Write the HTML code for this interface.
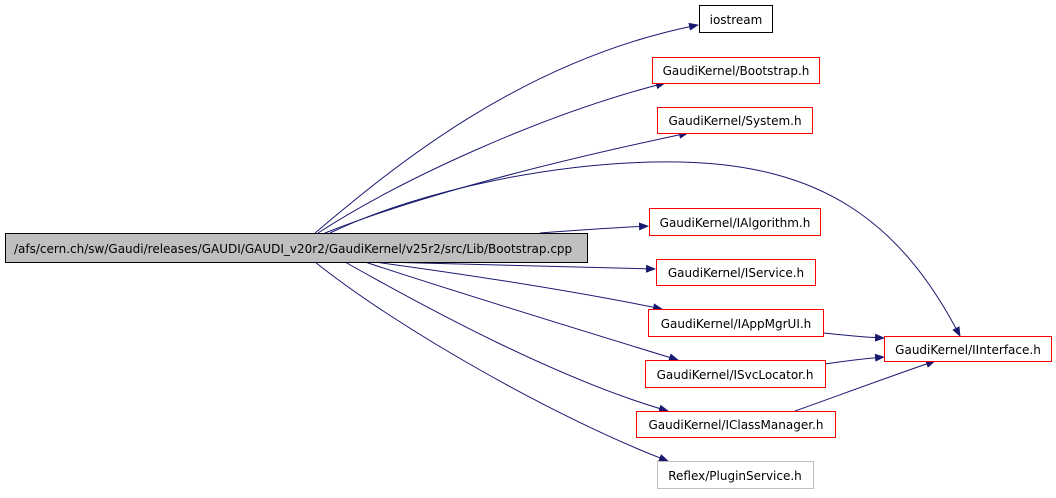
<!DOCTYPE html>
<html><head><style>
body{margin:0;background:#fff;width:1056px;height:493px;overflow:hidden}
svg text{font-family:"DejaVu Sans","Liberation Sans",sans-serif;font-size:12px}
</style></head><body>
<svg width="1056" height="493" viewBox="0 0 1056 493" xmlns="http://www.w3.org/2000/svg">
<defs><marker id="a" markerWidth="10" markerHeight="8" refX="9" refY="4" orient="auto" markerUnits="userSpaceOnUse"><path d="M0,0 L10,4 L0,8 z" fill="#191970"/></marker></defs>
<g fill="none" stroke="#191970" stroke-width="1" marker-end="url(#a)">
<path d="M315,233 C390,170 520,60 698,25"/>
<path d="M318,233 C400,180 540,115 665,83"/>
<path d="M325,233 C420,195 560,160 688,133"/>
<path d="M330,233 C420,190 560,160 680,162 C820,165 900,220 960,336"/>
<path d="M540,233 C580,230 610,228 648,226"/>
<path d="M380,262 C480,265 570,267 655,269"/>
<path d="M375,262 C470,275 570,290 662,309"/>
<path d="M365,262 C450,290 580,330 678,360"/>
<path d="M345,262 C430,310 560,380 668,411"/>
<path d="M315,262 C400,330 560,420 668,461"/>
<path d="M823,333 C845,335 860,337 884,338"/>
<path d="M825,364 C845,361 860,359 884,357"/>
<path d="M795,411 C840,395 880,380 935,361"/>
</g>
<rect x="5.5" y="233.5" width="582" height="29" fill="#bfbfbf" stroke="#000"/>
<text x="14" y="253">/afs/cern.ch/sw/Gaudi/releases/GAUDI/GAUDI_v20r2/GaudiKernel/v25r2/src/Lib/Bootstrap.cpp</text>
<g fill="#fff">
<rect x="699.5" y="5.5" width="73" height="27" stroke="#000"/>
<rect x="652.5" y="57.5" width="167" height="26" stroke="#f00"/>
<rect x="657.5" y="107.5" width="155" height="26" stroke="#f00"/>
<rect x="649.5" y="208.5" width="171" height="27" stroke="#f00"/>
<rect x="656.5" y="259.5" width="159" height="26" stroke="#f00"/>
<rect x="648.5" y="309.5" width="175" height="27" stroke="#f00"/>
<rect x="884.5" y="336.5" width="167" height="25" stroke="#f00"/>
<rect x="645.5" y="360.5" width="180" height="27" stroke="#f00"/>
<rect x="636.5" y="411.5" width="199" height="26" stroke="#f00"/>
<rect x="657.5" y="461.5" width="156" height="27" stroke="#bfbfbf"/>
</g>
<g text-anchor="middle">
<text x="736" y="24">iostream</text>
<text x="736" y="75">GaudiKernel/Bootstrap.h</text>
<text x="735" y="125">GaudiKernel/System.h</text>
<text x="735" y="227">GaudiKernel/IAlgorithm.h</text>
<text x="736" y="277">GaudiKernel/IService.h</text>
<text x="736" y="328">GaudiKernel/IAppMgrUI.h</text>
<text x="968" y="354">GaudiKernel/IInterface.h</text>
<text x="735" y="379">GaudiKernel/ISvcLocator.h</text>
<text x="736" y="429">GaudiKernel/IClassManager.h</text>
<text x="735" y="480">Reflex/PluginService.h</text>
</g>
</svg>
</body></html>
